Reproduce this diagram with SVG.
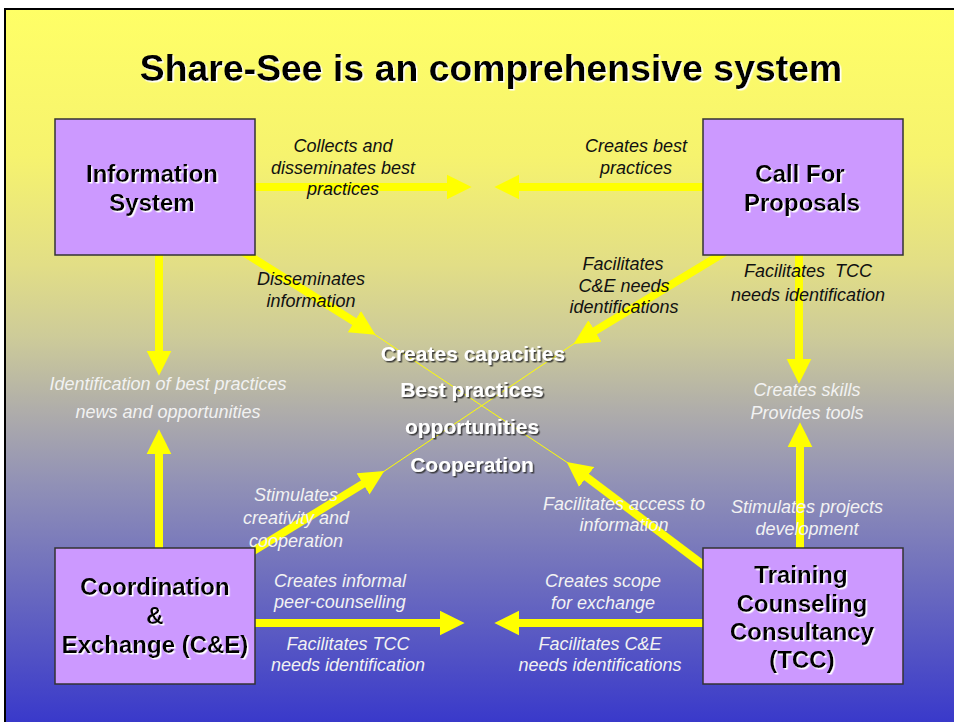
<svg xmlns="http://www.w3.org/2000/svg" width="954" height="722" viewBox="0 0 954 722">
<style>
.box{fill:#CC99FF;stroke:#333333;stroke-width:1.5}
.bt{font-family:"Liberation Sans",Arial,sans-serif;font-weight:bold;font-size:24px;fill:#000;text-anchor:middle;filter:url(#shW)}
.lbl{font-family:"Liberation Sans",Arial,sans-serif;font-style:italic;font-size:18px;text-anchor:middle}
.dk{fill:#111111}
.lt{fill:#F2F2F2}
.ctr{font-family:"Liberation Sans",Arial,sans-serif;font-weight:bold;font-size:21px;fill:#FFFFFF;text-anchor:middle;filter:url(#shD)}
.arr{stroke:#FFFF00;stroke-width:8;fill:none;marker-end:url(#ah)}
.thin{stroke:#FFFF00;stroke-width:1;fill:none}
</style>
<defs>
<linearGradient id="bg" x1="0" y1="0" x2="0" y2="1">
<stop offset="0" stop-color="#FFFF66"/>
<stop offset="0.2" stop-color="#F6F36E"/>
<stop offset="0.35" stop-color="#E2DE86"/>
<stop offset="0.45" stop-color="#CDCB99"/>
<stop offset="0.55" stop-color="#AFADAA"/>
<stop offset="0.65" stop-color="#9191B6"/>
<stop offset="0.78" stop-color="#6E6EBE"/>
<stop offset="1" stop-color="#3333CC"/>
</linearGradient>
<marker id="ah" markerUnits="userSpaceOnUse" markerWidth="26" markerHeight="26" viewBox="0 -12 24 24" refX="3" refY="0" orient="auto">
<path d="M0,-11.5 L23,0 L0,11.5 z" fill="#FFFF00"/>
</marker>
<filter id="shW" x="-10%" y="-20%" width="120%" height="150%">
<feDropShadow dx="1.5" dy="1.5" stdDeviation="0.3" flood-color="#FFFFFF" flood-opacity="1"/>
</filter>
<filter id="shD" x="-10%" y="-20%" width="120%" height="150%">
<feDropShadow dx="1.5" dy="1.5" stdDeviation="0.5" flood-color="#333333" flood-opacity="0.9"/>
</filter>
</defs>
<rect x="0" y="0" width="954" height="722" fill="#FFFFFF"/>
<rect x="5" y="9" width="960" height="730" fill="url(#bg)" stroke="#000" stroke-width="2"/>
<text x="491" y="81" font-family="Liberation Sans, Arial, sans-serif" font-weight="bold" font-size="37.4" text-anchor="middle" fill="#000" filter="url(#shW)">Share-See is an comprehensive system</text>
<g id="connectors">
<line class="thin" x1="374" y1="334" x2="568" y2="463"/>
<line class="thin" x1="575" y1="343" x2="383" y2="472"/>
<line class="arr" x1="255" y1="187" x2="450" y2="187"/>
<line class="arr" x1="703" y1="187" x2="516" y2="187"/>
<line class="arr" x1="159" y1="255" x2="159" y2="354"/>
<line class="arr" x1="159" y1="548" x2="159" y2="451"/>
<line class="arr" x1="799" y1="255" x2="799" y2="362"/>
<line class="arr" x1="800" y1="548" x2="800" y2="444"/>
<line class="arr" x1="255" y1="623" x2="443" y2="623"/>
<line class="arr" x1="703" y1="623" x2="516" y2="623"/>
<line class="arr" x1="240" y1="250" x2="357.1" y2="323.3"/>
<line class="arr" x1="725" y1="252" x2="592.1" y2="332.7"/>
<line class="arr" x1="250" y1="553" x2="365.8" y2="482.2"/>
<line class="arr" x1="710" y1="570" x2="584" y2="475.1"/>
</g>
<g id="info-system">
<rect class="box" x="55" y="119" width="200" height="136"/>
<text class="bt" x="152" y="182">Information</text>
<text class="bt" x="152" y="211">System</text>
</g>
<g id="call-for-proposals">
<rect class="box" x="703" y="119" width="200" height="136"/>
<text class="bt" x="800" y="182">Call For</text>
<text class="bt" x="802" y="211">Proposals</text>
</g>
<g id="coordination-exchange">
<rect class="box" x="55" y="548" width="200" height="136"/>
<text class="bt" x="155" y="595">Coordination</text>
<text class="bt" x="155" y="624">&amp;</text>
<text class="bt" x="155" y="653">Exchange (C&amp;E)</text>
</g>
<g id="tcc">
<rect class="box" x="703" y="548" width="200" height="136"/>
<text class="bt" x="801" y="583">Training</text>
<text class="bt" x="802" y="612">Counseling</text>
<text class="bt" x="802" y="640">Consultancy</text>
<text class="bt" x="802" y="668">(TCC)</text>
</g>
<g id="center">
<text class="ctr" x="473" y="361">Creates capacities</text>
<text class="ctr" x="472" y="397">Best practices</text>
<text class="ctr" x="472" y="434">opportunities</text>
<text class="ctr" x="472" y="472">Cooperation</text>
</g>
<g id="labels">
<text class="lbl dk" x="343" y="152">Collects and</text>
<text class="lbl dk" x="343" y="174">disseminates best</text>
<text class="lbl dk" x="343" y="195">practices</text>
<text class="lbl dk" x="636" y="152">Creates best</text>
<text class="lbl dk" x="636" y="174">practices</text>
<text class="lbl dk" x="311" y="285">Disseminates</text>
<text class="lbl dk" x="311" y="307">information</text>
<text class="lbl dk" x="623" y="270">Facilitates</text>
<text class="lbl dk" x="624" y="292">C&amp;E needs</text>
<text class="lbl dk" x="624" y="313">identifications</text>
<text class="lbl dk" x="808" y="277" xml:space="preserve">Facilitates  TCC</text>
<text class="lbl dk" x="808" y="301">needs identification</text>
<text class="lbl lt" x="168" y="390" font-size="18.5">Identification of best practices</text>
<text class="lbl lt" x="168" y="418" font-size="18.5">news and opportunities</text>
<text class="lbl lt" x="807" y="396">Creates skills</text>
<text class="lbl lt" x="807" y="419">Provides tools</text>
<text class="lbl lt" x="296" y="501">Stimulates</text>
<text class="lbl lt" x="296" y="524">creativity and</text>
<text class="lbl lt" x="296" y="547">cooperation</text>
<text class="lbl lt" x="624" y="510">Facilitates access to</text>
<text class="lbl lt" x="624" y="531">information</text>
<text class="lbl lt" x="807" y="513">Stimulates projects</text>
<text class="lbl lt" x="807" y="535">development</text>
<text class="lbl lt" x="340" y="587">Creates informal</text>
<text class="lbl lt" x="340" y="608">peer-counselling</text>
<text class="lbl lt" x="348" y="650">Facilitates TCC</text>
<text class="lbl lt" x="348" y="671">needs identification</text>
<text class="lbl lt" x="603" y="587">Creates scope</text>
<text class="lbl lt" x="603" y="609">for exchange</text>
<text class="lbl lt" x="600" y="650">Facilitates C&amp;E</text>
<text class="lbl lt" x="600" y="671">needs identifications</text>
</g>
</svg>
